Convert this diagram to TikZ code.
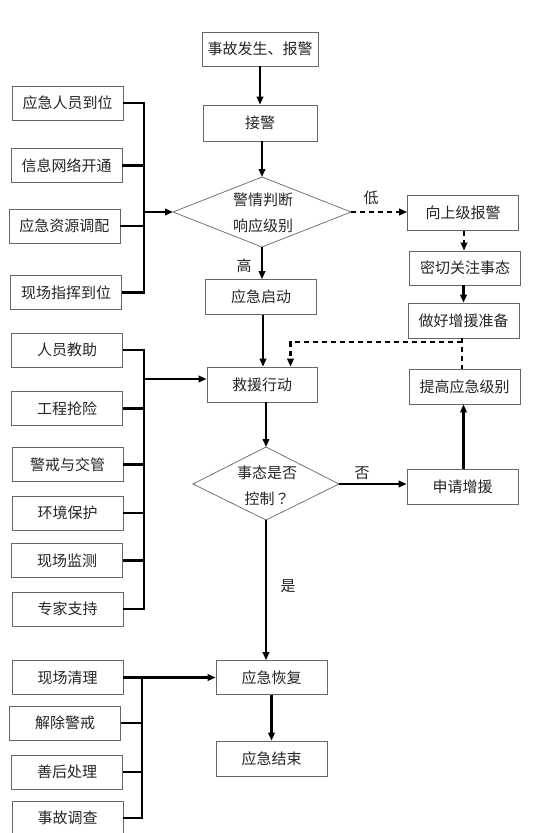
\documentclass[tikz,border=0pt]{standalone}
\usepackage{fontspec}
\setmainfont{Noto Sans CJK SC}
\newfontfamily\tcfont{Noto Sans CJK TC}
\usetikzlibrary{arrows.meta}
\begin{document}
\begin{tikzpicture}[x=1pt,y=-1pt,
  box/.style={draw=black!60, line width=0.7pt, fill=white, minimum width=111pt, minimum height=34pt, inner sep=0pt, font=\fontsize{15}{18}\selectfont, text=black!85},
  conn/.style={line width=2.2pt, -{Triangle[length=8pt,width=6.5pt]}},
  bar/.style={line width=2.2pt},
  dline/.style={line width=2.2pt, dash pattern=on 5pt off 4pt},
  dconn/.style={conn, dash pattern=on 5pt off 4pt},
  lbl/.style={font=\fontsize{15}{18}\selectfont, inner sep=0pt, text=black!85},
  dia/.style={draw=black!60, line width=0.7pt}]
\useasboundingbox (0,0) rectangle (553,833);
\fill[white] (0,0) rectangle (553,833);

% main column
\node[box, minimum width=116pt] (top) at (260,49) {事故发生、报警};
\node[box, minimum width=114pt, minimum height=36pt] (jj) at (260,123) {接警};

% diamond 1
\coordinate (d1t) at (262,177);
\coordinate (d1r) at (351,212);
\coordinate (d1b) at (262,247);
\coordinate (d1l) at (173,212);
\draw[dia] (d1t) -- (d1r) -- (d1b) -- (d1l) -- cycle;
\node[lbl, align=center, font=\fontsize{15}{26}\selectfont] (d1) at (263,213) {警情判断\\响应级别};

\node[box, minimum width=111pt, minimum height=35pt] (qd) at (261,297) {应急启动};
\node[box, minimum width=110pt, minimum height=35pt] (jy) at (262,384.5) {救援行动};

% diamond 2
\coordinate (d2t) at (266,447);
\coordinate (d2r) at (339,484);
\coordinate (d2b) at (266,520);
\coordinate (d2l) at (193,484);
\draw[dia] (d2t) -- (d2r) -- (d2b) -- (d2l) -- cycle;
\node[lbl, align=center, font=\fontsize{15}{26}\selectfont] (d2) at (267,486) {事态是否\\控制{\tcfont ？}};

\node[box] (hf) at (271.5,677.5) {应急恢复};
\node[box, minimum height=35pt] (js) at (271.5,758.5) {应急结束};

% right column
\node[box, minimum height=35pt] (up) at (463,213) {向上级报警};
\node[box] (mq) at (465,268) {密切关注事态};
\node[box, minimum height=35pt] (zb) at (463.5,320.5) {做好增援准备};
\node[box, minimum height=35pt] (tg) at (464.5,386.5) {提高应急级别};
\node[box, minimum height=35pt] (sq) at (462.5,486.5) {申请增援};

% left group 1
\node[box] (a1) at (67.5,103) {应急人员到位};
\node[box] (a2) at (66.5,165.5) {信息网络开通};
\node[box] (a3) at (64.5,226) {应急资源调配};
\node[box] (a4) at (66,292.5) {现场指挥到位};

% left group 2
\node[box] (b1) at (67,350) {人员教助};
\node[box] (b2) at (67,408.5) {工程抢险};
\node[box] (b3) at (67.5,464.5) {警戒与交管};
\node[box] (b4) at (67.5,513) {环境保护};
\node[box] (b5) at (67,560.5) {现场监测};
\node[box] (b6) at (67.5,609) {专家支持};

% left group 3
\node[box] (c1) at (67.5,677.5) {现场清理};
\node[box] (c2) at (65,723) {解除警戒};
\node[box] (c3) at (67,772) {善后处理};
\node[box] (c4) at (67.5,818) {事故调查};

% main connectors
\draw[conn] (top) -- (jj);
\draw[conn] (jj.south -| d1t) -- (d1t);
\draw[conn] (d1b) -- (d1b |- qd.north);
\draw[conn] (qd.south -| 263,0) -- (jy.north -| 263,0);
\draw[conn] (jy.south -| d2t) -- (d2t);
\draw[conn] (d2b) -- (d2b |- hf.north);
\draw[conn] (hf) -- (js);

% right side
\draw[dconn] (d1r) -- (d1r -| up.west);
\draw[dconn] (up.south -| 464,0) -- (mq.north -| 464,0);
\draw[conn] (mq.south -| 463.5,0) -- (zb.north -| 463.5,0);
\draw[conn] (d2r) -- (d2r -| sq.west);
\draw[conn] (sq.north -| 463.5,0) -- (tg.south -| 463.5,0);
\draw[dline] (zb.south -| 462,0) -- (tg.north -| 462,0);
\coordinate (k1) at (462,342);
\coordinate (k2) at (290.5,342);
\draw[dconn] (k1) -- (k2) -- (k2 |- jy.north);

% labels
\node[lbl] (low) at (371,198) {低};
\node[lbl] (high) at (244,266) {高};
\node[lbl] (no) at (362,473) {否};
\node[lbl] (yes) at (288,586) {是};

% bus 1
\coordinate (j1) at (144,212);
\draw[bar] (a1.east) -| (j1);
\draw[bar] (a4.east) -| (j1);
\draw[bar] (a2.east) -- (a2.east -| j1);
\draw[bar] (a3.east) -- (a3.east -| j1);
\draw[conn] (j1) -- (d1l);

% bus 2
\coordinate (j2) at (144,379);
\draw[bar] (b1.east) -| (j2);
\draw[bar] (b6.east) -| (j2);
\draw[bar] (b2.east) -- (b2.east -| j2);
\draw[bar] (b3.east) -- (b3.east -| j2);
\draw[bar] (b4.east) -- (b4.east -| j2);
\draw[bar] (b5.east) -- (b5.east -| j2);
\draw[conn] (j2) -- (j2 -| jy.west);

% bus 3
\coordinate (j3) at (142,677.5);
\draw[conn] (c1.east) -- (hf.west);
\draw[bar] (c4.east) -| (j3);
\draw[bar] (c2.east) -- (c2.east -| j3);
\draw[bar] (c3.east) -- (c3.east -| j3);
\end{tikzpicture}
\end{document}
